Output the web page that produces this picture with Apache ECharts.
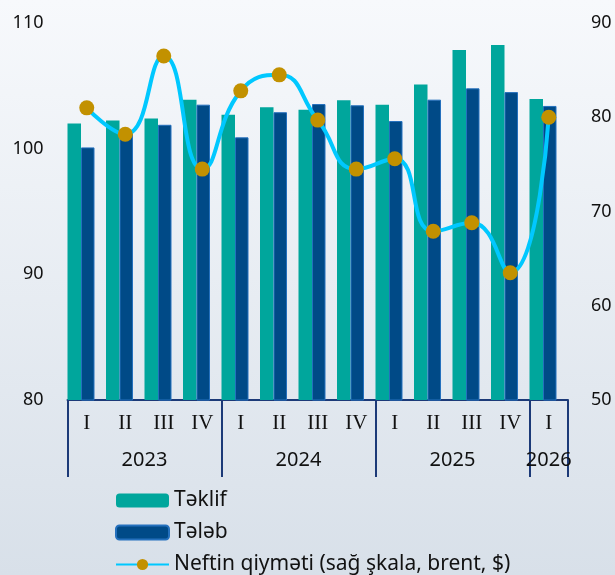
<!DOCTYPE html>
<html>
<head>
<meta charset="utf-8">
<script src="https://cdn.jsdelivr.net/npm/echarts@6/dist/echarts.min.js"></script>
<style>
  html, body { margin: 0; padding: 0; }
  #chart { width: 615px; height: 575px; }
</style>
</head>
<body>
<div id="chart"></div>
<script>
// rüblər və illər
var quarters = ['I', 'II', 'III', 'IV', 'I', 'II', 'III', 'IV', 'I', 'II', 'III', 'IV', 'I'];
var years = ['2023', '2024', '2025', '2026'];
var quartersPerYear = [4, 4, 4, 1];

// sol şkala
var teklif = [102.0, 102.25, 102.4, 103.9, 102.7, 103.3, 103.1, 103.85, 103.5, 105.1, 107.85, 108.25, 103.95];
var teleb = [100.1, 101.5, 101.9, 103.5, 100.9, 102.9, 103.55, 103.45, 102.2, 103.9, 104.8, 104.5, 103.4];
// sağ şkala
var neft = [81.0, 78.2, 86.5, 74.5, 82.8, 84.5, 79.7, 74.5, 75.6, 67.9, 68.8, 63.5, 80.0];

var oilName = 'Neftin qiyməti (sağ şkala, brent, $)';
var leftMin = 80, leftMax = 110;

// il oxu: yarım rüb addımları ilə (boundaryGap false)
var yearAxisData = [];
var yearBounds = {};
var s = 0;
for (var i = 0; i <= quarters.length * 2; i++) yearAxisData.push('');
for (var y = 0; y < years.length; y++) {
    yearBounds[2 * s] = true;
    yearAxisData[2 * s + quartersPerYear[y]] = years[y];
    s += quartersPerYear[y];
}
yearBounds[2 * s] = true;

var navy = '#1c3a78';

var chart = echarts.init(document.getElementById('chart'));
chart.setOption({
    backgroundColor: {
        type: 'linear', x: 0, y: 0, x2: 0, y2: 1,
        colorStops: [{ offset: 0, color: '#f7f9fc' }, { offset: 1, color: '#d8e0e9' }]
    },
    textStyle: { fontFamily: 'Noto Sans' },
    grid: { left: 67.5, right: 47, top: 23, bottom: 175 },
    legend: {
        data: ['Təklif', 'Tələb', oilName],
        orient: 'vertical',
        left: 115,
        top: 490,
        height: 90,
        padding: 0,
        itemWidth: 53,
        itemHeight: 14,
        itemGap: 11,
        textStyle: { fontSize: 21, color: '#111', lineHeight: 21 }
    },
    xAxis: [{
        type: 'category',
        data: quarters,
        axisLine: { lineStyle: { color: navy, width: 2 } },
        axisTick: { show: false },
        axisLabel: {
            interval: 0, margin: 13,
            fontFamily: 'Liberation Serif', fontSize: 21, color: '#111'
        }
    }, {
        type: 'category',
        position: 'bottom',
        boundaryGap: false,
        data: yearAxisData,
        axisLine: { show: false },
        axisTick: {
            length: 77,
            interval: function (idx) { return !!yearBounds[idx]; },
            lineStyle: { color: navy, width: 2 }
        },
        axisLabel: {
            interval: function (idx, val) { return val !== ''; },
            margin: 50, fontSize: 20, color: '#111'
        }
    }],
    yAxis: [{
        type: 'value', min: leftMin, max: leftMax, interval: 10,
        splitLine: { show: false },
        axisLabel: { fontSize: 18, color: '#111', margin: 24 }
    }, {
        type: 'value', min: 50, max: 90, interval: 10,
        splitLine: { show: false },
        axisLabel: { fontSize: 18, color: '#111', margin: 23 }
    }],
    series: [{
        name: 'Təklif',
        type: 'bar',
        barWidth: 13.5,
        barGap: '0%',
        barCategoryGap: '0%',
        itemStyle: { color: '#00a69c' },
        data: teklif
    }, {
        name: 'Tələb',
        type: 'bar',
        barWidth: 13.5,
        barGap: '0%',
        barCategoryGap: '0%',
        itemStyle: { color: '#004a87', borderColor: '#2470bd', borderWidth: 1 },
        data: teleb
    }, {
        // görünməz boşluq: cütlüyü sola sürüşdürür
        name: '_bos',
        type: 'bar',
        barWidth: 11.5,
        barGap: '0%',
        barCategoryGap: '0%',
        silent: true,
        itemStyle: { color: 'transparent' },
        data: quarters.map(function () { return leftMin; })
    }, {
        name: oilName,
        type: 'line',
        yAxisIndex: 1,
        smooth: true,
        symbol: 'circle',
        symbolSize: 15,
        lineStyle: { color: '#00c8ff', width: 4 },
        itemStyle: { color: '#c29100' },
        data: neft
    }]
});
</script>
</body>
</html>
